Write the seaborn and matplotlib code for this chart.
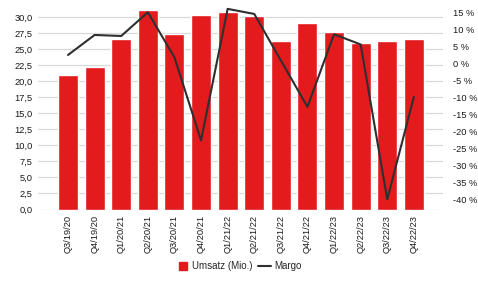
import matplotlib
matplotlib.use("Agg")
import matplotlib.pyplot as plt
import seaborn as sns
import pandas as pd
from matplotlib.lines import Line2D
from matplotlib.ticker import FuncFormatter, MultipleLocator

quarters = ["Q3/19/20", "Q4/19/20", "Q1/20/21", "Q2/20/21", "Q3/20/21", "Q4/20/21",
            "Q1/21/22", "Q2/21/22", "Q3/21/22", "Q4/21/22", "Q1/22/23", "Q2/22/23",
            "Q3/22/23", "Q4/22/23"]
umsatz = [21.0, 22.2, 26.6, 31.0, 27.4, 30.3, 30.7, 30.1, 26.3, 29.0, 27.6, 26.0, 26.2, 26.6]
margo = [2.6, 8.5, 8.2, 15.2, 1.9, -22.6, 16.2, 14.7, 1.0, -12.7, 8.7, 5.7, -40.0, -9.8]

df = pd.DataFrame({"Quartal": quarters, "Umsatz": umsatz, "Margo": margo})

sns.set_theme(style="white")
plt.rcParams["font.family"] = ["Liberation Sans", "DejaVu Sans"]

RED = "#e31b1d"
DARK = "#2f2f2f"
GRID = "#d9d9d9"

fig = plt.figure(figsize=(4.78, 2.82), dpi=100)
ax = fig.add_axes([0.08, 0.257, 0.847, 0.738])
sns.barplot(data=df, x="Quartal", y="Umsatz", color=RED, width=0.75,
            saturation=1, ax=ax, zorder=2)
ax.set_ylim(0, 32.4)
ax.yaxis.set_major_locator(MultipleLocator(2.5))
ax.yaxis.set_major_formatter(FuncFormatter(lambda v, p: f"{v:.1f}".replace(".", ",")))
ax.grid(axis="y", color=GRID, linewidth=0.9, zorder=0)
ax.set_axisbelow(True)
ax.set_xlim(-1.12, 14.1)
ax.set_xlabel("")
ax.set_ylabel("")
for s in ax.spines.values():
    s.set_visible(False)
ax.tick_params(axis="y", labelsize=6.7, length=0, pad=4, colors="#1a1a1a")
ax.tick_params(axis="x", labelsize=6.7, length=0, pad=4, colors="#1a1a1a", rotation=90)

ax2 = ax.twinx()
sns.lineplot(data=df, x="Quartal", y="Margo", color=DARK, linewidth=1.5,
             ax=ax2, sort=False, zorder=3)
ax2.set_ylim(-43.0, 18.4)
ax2.yaxis.set_major_locator(MultipleLocator(5))
ax2.yaxis.set_major_formatter(FuncFormatter(lambda v, p: f"{v:.0f} %" if -40.01 <= v <= 15.01 else ""))
ax2.set_ylabel("")
ax2.set_xlabel("")
for s in ax2.spines.values():
    s.set_visible(False)
ax2.tick_params(axis="y", labelsize=6.7, length=0, pad=7, colors="#1a1a1a")
ax2.grid(False)
ax2.set_xlim(-1.12, 14.1)

handles = [Line2D([], [], marker="s", color=RED, linestyle="none", markersize=5.5),
           Line2D([], [], color=DARK, linewidth=1.5)]
leg = fig.legend(handles, ["Umsatz (Mio.)", "Margo"], loc="center",
                 bbox_to_anchor=(0.5, 0.055), ncol=2, frameon=False,
                 fontsize=7, handlelength=1.3, handletextpad=0.3, columnspacing=0.6)

fig.savefig("out.png", dpi=100)
